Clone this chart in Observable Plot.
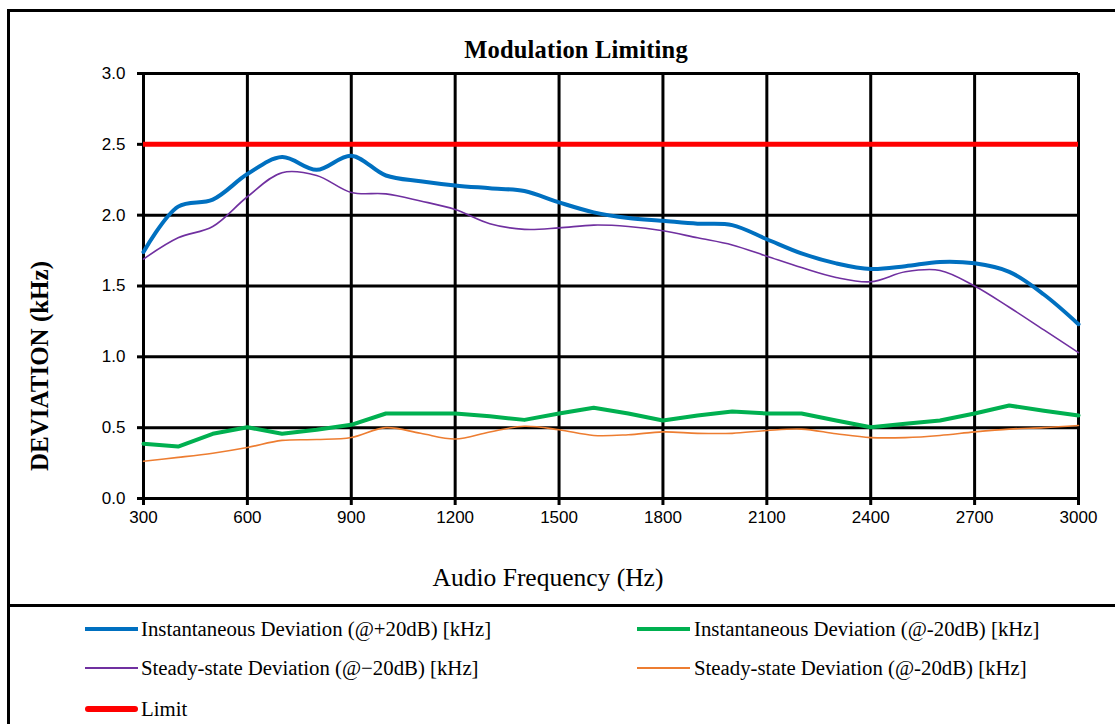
<!DOCTYPE html>
<html><head><meta charset="utf-8">
<script src="https://cdn.jsdelivr.net/npm/d3@7"></script>
<script src="https://cdn.jsdelivr.net/npm/@observablehq/plot@0.6"></script>
<style>
html,body{margin:0;padding:0;background:#fff;width:1115px;height:724px;overflow:hidden;}
#wrap{position:relative;width:1115px;height:724px;overflow:hidden;}
.box{position:absolute;left:7px;top:9px;width:1200px;height:800px;border:3px solid #000;box-sizing:border-box}
.sep{position:absolute;left:7px;top:604px;width:1200px;border-top:3px solid #000}
#chart{position:absolute;left:0;top:0}
.title{position:absolute;top:50px;left:576px;transform:translate(-50%,-50%);font:bold 24.5px "Liberation Serif",serif;letter-spacing:0.2px;white-space:nowrap}
.ylab{position:absolute;left:40px;top:366px;transform:translate(-50%,-50%) rotate(-90deg);font:bold 25px "Liberation Serif",serif;white-space:nowrap}
.xlab{position:absolute;left:548px;top:578px;transform:translate(-50%,-50%);font:25.5px "Liberation Serif",serif;white-space:nowrap}
.sw{position:absolute;width:53px}
.lt{position:absolute;font:20.8px "Liberation Serif",serif;white-space:nowrap;transform:translateY(-50%)}
</style></head>
<body><div id="wrap">
<div class="box"></div>
<div class="sep"></div>
<div id="chart"></div>
</div>
<script>
// ---- data ----
const titleText = "Modulation Limiting";
const xTitle = "Audio Frequency (Hz)";
const yTitle = "DEVIATION (kHz)";
const freqs = [300,400,500,600,700,800,900,1000,1100,1200,1300,1400,1500,1600,1700,1800,1900,2000,2100,2200,2300,2400,2500,2600,2700,2800,2900,3000];
const instPlus20 = [1.74,2.06,2.11,2.29,2.41,2.32,2.42,2.28,2.24,2.21,2.19,2.17,2.09,2.02,1.98,1.96,1.94,1.93,1.83,1.73,1.66,1.62,1.64,1.67,1.66,1.60,1.44,1.23];
const instMinus20 = [0.386,0.367,0.457,0.503,0.457,0.485,0.52,0.60,0.60,0.60,0.58,0.555,0.60,0.64,0.60,0.55,0.586,0.614,0.60,0.60,0.55,0.503,0.527,0.55,0.60,0.656,0.62,0.586];
const steadyMinus20a = [1.69,1.84,1.92,2.13,2.30,2.28,2.16,2.15,2.10,2.04,1.94,1.90,1.91,1.93,1.92,1.89,1.84,1.79,1.71,1.63,1.56,1.53,1.60,1.61,1.50,1.35,1.19,1.03];
const steadyMinus20b = [0.263,0.29,0.32,0.36,0.41,0.416,0.43,0.50,0.46,0.42,0.47,0.51,0.485,0.445,0.45,0.47,0.46,0.46,0.48,0.49,0.457,0.43,0.43,0.445,0.47,0.49,0.50,0.515];
const limitValue = 2.5;
const xTicks = [300,600,900,1200,1500,1800,2100,2400,2700,3000];
const xTickLabels = ["300","600","900","1200","1500","1800","2100","2400","2700","3000"];
const yTicks = [0,0.5,1,1.5,2,2.5,3];
const yTickLabels = ["0.0","0.5","1.0","1.5","2.0","2.5","3.0"];
const seriesNames = [
  "Instantaneous Deviation (@+20dB) [kHz]",
  "Instantaneous Deviation (@-20dB) [kHz]",
  "Steady-state Deviation (@\u221220dB) [kHz]",
  "Steady-state Deviation (@-20dB) [kHz]",
  "Limit"
];

// ---- styles ----
const colors = ["#0070C0","#00B050","#7030A0","#ED7D31","#FF0000"];
const widths = [4,4,1.6,1.6,6];

const chart = Plot.plot({
  width:1115, height:606,
  marginLeft:143, marginRight:37, marginTop:73, marginBottom:108,
  style:{fontFamily:'"Liberation Sans", Arial, sans-serif', fontSize:"17px", color:"#000", background:"transparent", overflow:"visible"},
  x:{domain:[300,3000]},
  y:{domain:[0,3]},
  marks:[
    Plot.ruleX(xTicks,{stroke:"#000",strokeWidth:3}),
    Plot.ruleY(yTicks,{stroke:"#000",strokeWidth:3}),
    Plot.line(steadyMinus20b,{x:freqs,y:steadyMinus20b,stroke:colors[3],strokeWidth:widths[3],curve:"catmull-rom"}),
    Plot.line(instMinus20,{x:freqs,y:instMinus20,stroke:colors[1],strokeWidth:widths[1],curve:"linear"}),
    Plot.line(steadyMinus20a,{x:freqs,y:steadyMinus20a,stroke:colors[2],strokeWidth:widths[2],curve:"catmull-rom"}),
    Plot.line(instPlus20,{x:freqs,y:instPlus20,stroke:colors[0],strokeWidth:widths[0],curve:"catmull-rom"}),
    Plot.ruleY([limitValue],{stroke:colors[4],strokeWidth:5}),
    Plot.axisX({ticks:xTicks, tickSize:7, tickPadding:5, strokeWidth:3, tickFormat:d=>xTickLabels[xTicks.indexOf(d)], label:null, fontSize:17}),
    Plot.axisY({ticks:yTicks, tickSize:6, tickPadding:12, strokeWidth:3, tickFormat:d=>yTickLabels[yTicks.indexOf(d)], label:null, fontSize:17})
  ]
});
document.getElementById("chart").appendChild(chart);

const wrap = document.getElementById("wrap");
function addDiv(cls, text, css){
  const d = document.createElement("div");
  d.className = cls; if (text) d.textContent = text;
  Object.assign(d.style, css||{});
  wrap.appendChild(d); return d;
}
addDiv("title", titleText);
addDiv("ylab", yTitle);
addDiv("xlab", xTitle);

// legend layout
const legendPos = [
  {sx:85, tx:141, y:629},
  {sx:637, tx:694, y:629},
  {sx:85, tx:141, y:668},
  {sx:637, tx:694, y:668},
  {sx:85, tx:141, y:709}
];
seriesNames.forEach((name,i)=>{
  const p = legendPos[i];
  const h = widths[i] < 3 ? 2 : widths[i];
  addDiv("sw", "", {left:p.sx+"px", top:(p.y - h/2)+"px", height:h+"px", background:colors[i], borderRadius: i===4 ? "3px" : "0"});
  addDiv("lt", name, {left:p.tx+"px", top:p.y+"px"});
});
</script>
</body></html>
